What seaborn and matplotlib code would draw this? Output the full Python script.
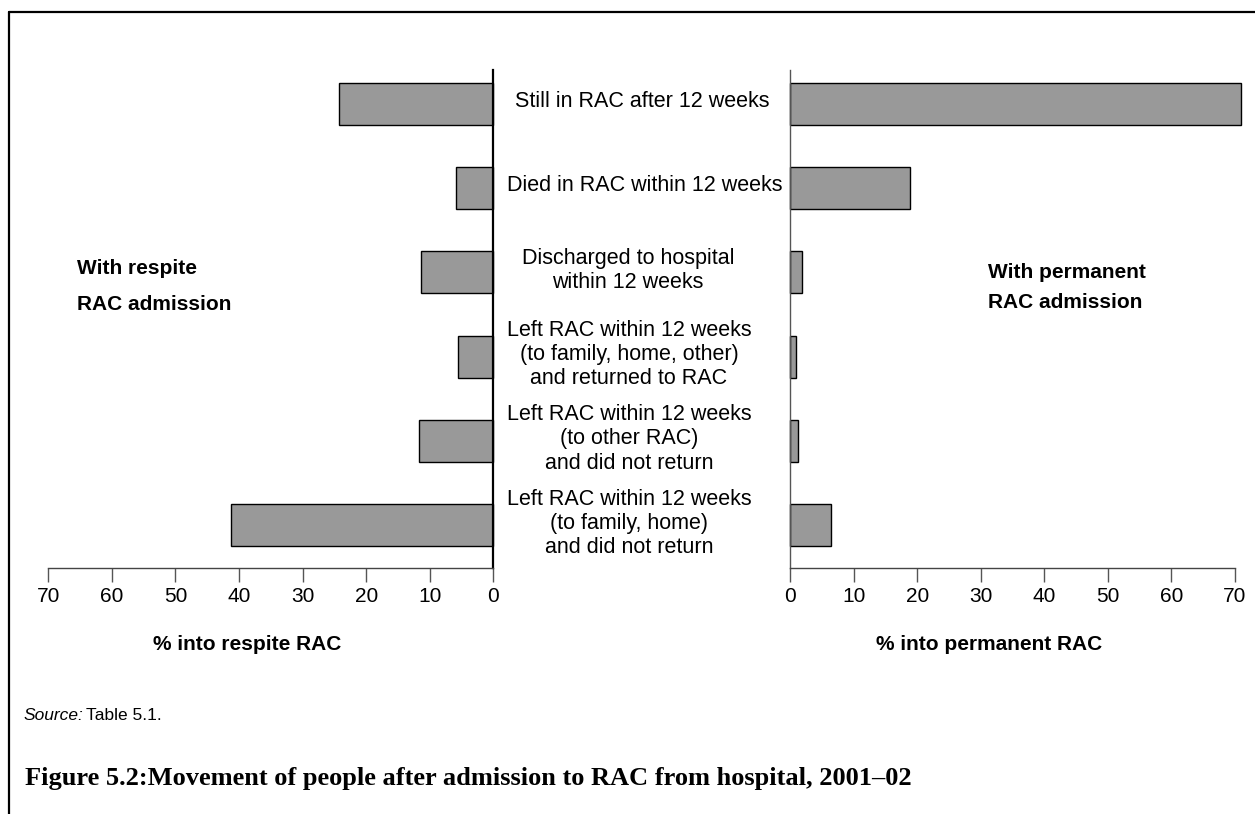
import matplotlib
matplotlib.use("Agg")
import matplotlib.pyplot as plt
import matplotlib.lines as mlines
import pandas as pd
import seaborn as sns

# outcome categories, top to bottom
CATEGORIES = [
    "Still in RAC after 12 weeks",
    "Died in RAC within 12 weeks",
    "Discharged to hospital\nwithin 12 weeks",
    "Left RAC within 12 weeks\n(to family, home, other)\nand returned to RAC",
    "Left RAC within 12 weeks\n(to other RAC)\nand did not return",
    "Left RAC within 12 weeks\n(to family, home)\nand did not return",
]
RESPITE_PCT = [24.3, 5.8, 11.3, 5.6, 11.7, 41.3]
PERMANENT_PCT = [70.9, 18.8, 1.9, 0.9, 1.2, 6.4]
TICKS = [0, 10, 20, 30, 40, 50, 60, 70]

W, H = 1255, 814
BAR_GREY = "#999999"
FONT = ["Liberation Sans", "DejaVu Sans"]
# horizontal centre (figure px) of each category label in the gap
LABEL_X = [642, 645, 628, 629, 629, 629]

sns.set_theme(style="white")
plt.rcParams["font.family"] = FONT
plt.rcParams["text.color"] = "black"

df = pd.DataFrame({
    "category": CATEGORIES,
    "respite": RESPITE_PCT,
    "permanent": PERMANENT_PCT,
})

fig = plt.figure(figsize=(W / 100, H / 100), dpi=100)
fig.patch.set_facecolor("white")


def px_axes(x0, x1, y0, y1):
    return fig.add_axes([x0 / W, 1 - y1 / H, (x1 - x0) / W, (y1 - y0) / H])


ax_l = px_axes(48.3, 493.3, 70, 567.5)
ax_r = px_axes(790, 1235, 70, 567.5)

for ax, col in ((ax_l, "respite"), (ax_r, "permanent")):
    sns.barplot(data=df, y="category", x=col, orient="h", order=CATEGORIES,
                color=BAR_GREY, saturation=1, width=0.5,
                edgecolor="black", linewidth=1.0, ax=ax)
    for p in ax.patches:
        p.set_clip_on(False)
    ax.set_ylim(5.5, -0.4)
    ax.set_xticks(TICKS)
    ax.set_xticklabels([str(t) for t in TICKS])
    ax.set_yticks([])
    ax.set_xlabel("")
    ax.set_ylabel("")
    ax.tick_params(axis="x", direction="out", length=10, width=1.0,
                   color="#555555", labelsize=15, pad=4, labelcolor="black",
                   bottom=True)
    ax.spines["top"].set_visible(False)
    ax.spines["bottom"].set_color("#444444")
    ax.spines["bottom"].set_linewidth(1.0)
    ax.set_facecolor("white")
    ax.grid(False)

ax_l.set_xlim(70, 0)
ax_l.spines["left"].set_visible(False)
ax_l.spines["right"].set_visible(True)
ax_l.spines["right"].set_color("black")
ax_l.spines["right"].set_linewidth(1.6)

ax_r.set_xlim(0, 70)
ax_r.spines["right"].set_visible(False)
ax_r.spines["left"].set_color("#555555")
ax_r.spines["left"].set_linewidth(1.0)

# category labels in the gap between the two panels
for i, cat in enumerate(CATEGORIES):
    ax_l.annotate(cat, xy=(0, i), xycoords="data", xytext=(LABEL_X[i], 1.5),
                  textcoords=("figure pixels", "offset points"),
                  ha="center", va="center", fontsize=15.5, linespacing=1.2,
                  annotation_clip=False)


def ftext(x, y, s, **kw):
    fig.text(x / W, 1 - y / H, s, **kw)


ftext(77, 269, "With respite", fontsize=15, fontweight="bold", va="center")
ftext(77, 304, "RAC admission", fontsize=15, fontweight="bold", va="center")
ftext(988, 273, "With permanent", fontsize=15, fontweight="bold", va="center")
ftext(988, 302, "RAC admission", fontsize=15, fontweight="bold", va="center")

ftext(247, 644, "% into respite RAC", fontsize=15, fontweight="bold",
      ha="center", va="center")
ftext(989, 645, "% into permanent RAC", fontsize=15, fontweight="bold",
      ha="center", va="center")

ftext(24, 715, "Source:", fontsize=12.5, fontstyle="italic", va="center")
ftext(86, 715, "Table 5.1.", fontsize=12.5, va="center")

ftext(25, 778, "Figure 5.2:Movement of people after admission to RAC from hospital, 2001\u201302",
      fontsize=19, fontweight="bold", va="center",
      family=["Liberation Serif", "DejaVu Serif"])

# page frame: top and left rules
fig.add_artist(mlines.Line2D([9 / W, 1], [1 - 12 / H, 1 - 12 / H],
                             color="black", linewidth=1.6))
fig.add_artist(mlines.Line2D([9 / W, 9 / W], [0, 1 - 12 / H],
                             color="black", linewidth=1.6))

fig.savefig("out.png", dpi=100, facecolor="white")
